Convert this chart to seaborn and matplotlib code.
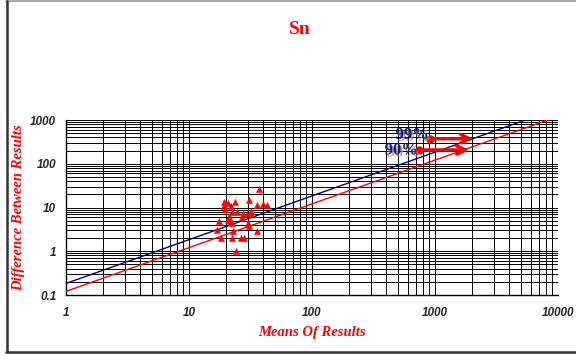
import matplotlib
matplotlib.use("Agg")
import matplotlib.pyplot as plt
import matplotlib.patheffects as pe
from matplotlib.lines import Line2D
from matplotlib.ticker import FixedLocator, LogLocator, NullFormatter
import seaborn as sns
import pandas as pd
import numpy as np

# data
means = [36.9, 19.3, 20.9, 23.5, 30.6, 19.4, 21.8, 35.9, 39.7, 43.3,
         19.7, 22.5, 24.6, 31.7, 27.6, 29.5, 32.1, 21.3, 27.0, 20.9,
         21.5, 17.6, 30.2, 22.2, 22.8, 16.8, 35.9, 18.3, 22.4, 26.6,
         28.0, 24.1, 30.9]
diffs = [26.1, 13.6, 12.9, 13.6, 14.8, 10.8, 10.8, 11.2, 11.8, 11.2,
         9.1, 7.9, 7.9, 8.3, 7.1, 7.0, 7.6, 6.4, 6.0, 5.2,
         4.8, 5.0, 4.5, 4.4, 2.95, 3.1, 2.95, 2.0, 2.0, 2.0,
         2.0, 1.03, 3.8]

line_x = [1, 10000]
line_99_coef = 0.184   # blue precision line
line_90_coef = 0.121   # red precision line

x_ticks = [1, 10, 100, 1000, 10000]
x_labels = ['1', '10', '100', '1000', '10000']
y_ticks = [0.1, 1, 10, 100, 1000]
y_labels = ['0.1', '1', '10', '100', '1000']

# legend arrows (start, end, y) and label lift
arrow_99 = (910, 2040, 374)
arrow_90 = (741, 1890, 206)
label_lift = {'99%': 1.22, '90%': 0.98}

sns.set_style('white')
plt.rcParams['font.family'] = ['Liberation Sans', 'DejaVu Sans']

fig = plt.figure(figsize=(5.76, 3.56), dpi=100)
ax = fig.add_axes([66 / 576, 61 / 356, 492 / 576, 175 / 356])

pts = pd.DataFrame({'mean': means, 'diff': diffs})
lines = pd.DataFrame({'x': line_x * 2,
                      'y': [line_99_coef * v for v in line_x] + [line_90_coef * v for v in line_x],
                      'level': ['99%'] * 2 + ['90%'] * 2})

sns.lineplot(data=lines, x='x', y='y', hue='level',
             palette={'99%': '#000080', '90%': '#ff0000'},
             linewidth=1.0, legend=False, ax=ax, zorder=3)
sns.scatterplot(data=pts, x='mean', y='diff', marker='^', color='#ff0000',
                edgecolor='#ff0000', linewidth=0.3, s=20, ax=ax, zorder=4)

ax.set_xscale('log')
ax.set_yscale('log')
ax.set_xlim(1, 10000)
ax.set_ylim(0.1, 1000)

ax.xaxis.set_major_locator(FixedLocator(x_ticks))
ax.set_xticklabels(x_labels)
ax.yaxis.set_major_locator(FixedLocator(y_ticks))
ax.set_yticklabels(y_labels)
ax.xaxis.set_minor_locator(LogLocator(base=10, subs=np.arange(2, 10)))
ax.yaxis.set_minor_locator(LogLocator(base=10, subs=np.arange(2, 10)))
ax.xaxis.set_minor_formatter(NullFormatter())
ax.yaxis.set_minor_formatter(NullFormatter())

ax.grid(which='both', color='black', linewidth=0.7)
ax.set_axisbelow(True)
for side in ['top', 'right']:
    ax.spines[side].set_visible(False)
for side in ['left', 'bottom']:
    ax.spines[side].set_color('black')
    ax.spines[side].set_linewidth(1.0)

ax.tick_params(axis='x', which='major', direction='out', length=4, width=1,
               pad=5, labelsize=8.5)
ax.tick_params(axis='x', which='minor', direction='out', length=3, width=0.8)
ax.tick_params(axis='y', which='major', direction='out', length=4, width=1,
               pad=3, labelsize=8.5)
ax.tick_params(axis='y', which='minor', length=0)
for lab in ax.get_xticklabels() + ax.get_yticklabels():
    lab.set_fontweight('bold')
    lab.set_fontstyle('italic')

ax.set_xlabel('Means Of Results', family=['Liberation Serif'], fontsize=10.5,
              fontweight='bold', fontstyle='italic', color='#ff0000', labelpad=5)
ax.set_ylabel('Difference Between Results', family=['Liberation Serif'],
              fontsize=10.5, fontweight='bold', fontstyle='italic',
              color='#ff0000', labelpad=4)

# legend arrows with dots
for (x0, x1, yv), label in [(arrow_99, '99%'), (arrow_90, '90%')]:
    ax.annotate('', xy=(x1, yv), xytext=(x0, yv),
                arrowprops=dict(arrowstyle='->,head_length=0.6,head_width=0.3',
                                color='#ff0000', lw=2.5, shrinkA=0, shrinkB=0),
                zorder=6)
    ax.plot([x0], [yv], 'o', color='#ff0000', markersize=5, zorder=6)
    ax.text(x0 * 0.98, yv * label_lift[label], label, ha='right', va='center',
            family=['Liberation Serif'], fontsize=12, fontweight='bold',
            color='#1a1a80', zorder=7,
            path_effects=[pe.withSimplePatchShadow(offset=(1.5, -1.5),
                                                   shadow_rgbFace='#999999',
                                                   alpha=0.8)])

fig.text(300 / 576, 1 - 30 / 356, 'Sn', ha='center', va='center',
         family=['Liberation Serif'], fontsize=14, fontweight='bold',
         color='#ff0000')

# chart area frame
fig.add_artist(Line2D([6 / 576, 1], [1 - 1 / 356, 1 - 1 / 356],
                      color='#999999', linewidth=1.2))
fig.add_artist(Line2D([6.5 / 576, 6.5 / 576], [1 - 1 / 356, 4 / 356],
                      color='#333333', linewidth=1.8))
fig.add_artist(Line2D([6 / 576, 1], [4 / 356, 4 / 356],
                      color='#333333', linewidth=1.8))

fig.savefig('out.png', dpi=100)
plt.close()
